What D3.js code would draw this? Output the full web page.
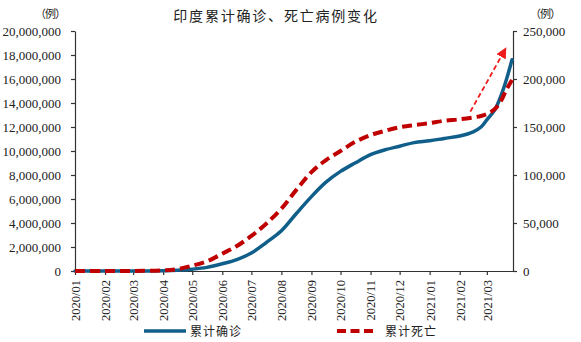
<!DOCTYPE html>
<html><head><meta charset="utf-8">
<script src="https://cdn.jsdelivr.net/npm/d3@7"></script>
<style>
body{margin:0;background:#fff;}
svg{display:block;}
</style>
</head><body>
<svg id="chart" width="581" height="342"></svg>
<script>
const title = "印度累计确诊、死亡病例变化";
const seriesNames = ["累计确诊", "累计死亡"];
const unitLabel = "（例）";
const dates = ["2020-01-01","2020-02-01","2020-03-01","2020-04-01","2020-04-16","2020-05-01","2020-05-16","2020-06-01","2020-06-16","2020-07-01","2020-07-16","2020-08-01","2020-08-16","2020-09-01","2020-09-16","2020-10-01","2020-10-16","2020-11-01","2020-11-16","2020-12-01","2020-12-16","2021-01-01","2021-01-16","2021-02-01","2021-02-15","2021-02-23","2021-03-01","2021-03-09","2021-03-16","2021-03-21","2021-03-27"];
const cases = [0,0,3000,20000,60000,150000,300000,600000,950000,1500000,2350000,3350000,4750000,6200000,7400000,8300000,9000000,9700000,10100000,10400000,10700000,10850000,11050000,11250000,11600000,12000000,12600000,13400000,14700000,15900000,17600000];
const deaths = [0,0,100,600,2000,5500,10000,18000,26000,36500,49000,65000,84000,103000,115500,125000,134500,141500,146000,149700,152000,154000,156500,158000,160000,161500,163500,168400,178000,188500,199000];
const leftTicks = [0,2000000,4000000,6000000,8000000,10000000,12000000,14000000,16000000,18000000,20000000];
const rightTicks = [0,50000,100000,150000,200000,250000];
const monthTicks = ["2020-01-01","2020-02-01","2020-03-01","2020-04-01","2020-05-01","2020-06-01","2020-07-01","2020-08-01","2020-09-01","2020-10-01","2020-11-01","2020-12-01","2021-01-01","2021-02-01","2021-03-01"];
const arrowStart = ["2021-02-12", 166000];
const arrowEnd = ["2021-03-20", 231000];

const parse = d3.utcParse("%Y-%m-%d");
const svg = d3.select("#chart");
const L = 75, R = 513, T = 31, B = 271;

const x = d3.scaleUtc().domain([parse("2020-01-01"), parse("2021-03-28")]).range([L, R]);
const yL = d3.scaleLinear().domain([0, 20000000]).range([B, T]);
const yR = d3.scaleLinear().domain([0, 250000]).range([B, T]);

const serif = "'Liberation Serif','Times New Roman',serif";
const cjk = "'Noto Sans CJK SC','Noto Sans CJK JP',sans-serif";
const fmt = d3.format(",");

// Left axis
const gL = svg.append("g").attr("transform", `translate(${L},0)`)
  .call(d3.axisLeft(yL).tickValues(leftTicks).tickFormat(fmt).tickSize(4).tickSizeOuter(0).tickPadding(10));
// Right axis
const gR = svg.append("g").attr("transform", `translate(${R},0)`)
  .call(d3.axisRight(yR).tickValues(rightTicks).tickFormat(fmt).tickSize(4).tickSizeOuter(0).tickPadding(6));
// Bottom axis
const gB = svg.append("g").attr("transform", `translate(0,${B})`)
  .call(d3.axisBottom(x).tickValues(monthTicks.map(parse)).tickFormat(d3.utcFormat("%Y/%m")).tickSize(4).tickSizeOuter(0));
gB.selectAll(".tick text")
  .attr("transform", "rotate(-90)")
  .attr("text-anchor", "end")
  .attr("x", -9).attr("y", 0).attr("dy", "0.35em");

[gL, gR, gB].forEach(g => {
  g.selectAll("text").attr("font-family", serif).attr("font-size", 13).attr("fill", "#222");
  g.selectAll("path,line").attr("stroke", "#333").attr("stroke-width", 1.2);
});
gB.selectAll("text").attr("font-size", 12.5);

// Lines
const curve = d3.curveCatmullRom.alpha(0.5);
const lineC = d3.line().x((d,i) => x(parse(dates[i]))).y(d => yL(d)).curve(curve);
const lineD = d3.line().x((d,i) => x(parse(dates[i]))).y(d => yR(d)).curve(curve);

svg.append("path").datum(cases).attr("d", lineC)
  .attr("fill", "none").attr("stroke", "#105e8a").attr("stroke-width", 3.5).attr("stroke-linecap", "round");
svg.append("path").datum(deaths).attr("d", lineD)
  .attr("fill", "none").attr("stroke", "#c00000").attr("stroke-width", 4).attr("stroke-dasharray", "10,5");

// Arrow annotation
const defs = svg.append("defs");
defs.append("marker").attr("id", "ah").attr("viewBox", "0 0 10 10").attr("refX", 8).attr("refY", 5)
  .attr("markerWidth", 6).attr("markerHeight", 6).attr("markerUnits", "strokeWidth").attr("orient", "auto")
  .append("path").attr("d", "M0,0L10,5L0,10Z").attr("fill", "#ee1c1c");
svg.append("line")
  .attr("x1", x(parse(arrowStart[0]))).attr("y1", yR(arrowStart[1]))
  .attr("x2", x(parse(arrowEnd[0]))).attr("y2", yR(arrowEnd[1]))
  .attr("stroke", "#ee1c1c").attr("stroke-width", 1.8).attr("stroke-dasharray", "5,3")
  .attr("marker-end", "url(#ah)");

// Title and unit labels
svg.append("text").attr("x", 276).attr("y", 21).attr("text-anchor", "middle")
  .attr("font-family", cjk).attr("font-size", 14).attr("letter-spacing", "1.8px").attr("fill", "#222").text(title);
svg.append("text").attr("x", 50).attr("y", 18).attr("text-anchor", "middle")
  .attr("font-family", cjk).attr("font-size", 11).attr("letter-spacing", "-1px").attr("fill", "#222").text(unitLabel);
svg.append("text").attr("x", 545).attr("y", 18).attr("text-anchor", "middle")
  .attr("font-family", cjk).attr("font-size", 11).attr("letter-spacing", "-1px").attr("fill", "#222").text(unitLabel);

// Legend
const legY = 331;
const leg = svg.append("g");
leg.append("line").attr("x1", 144).attr("x2", 186).attr("y1", legY).attr("y2", legY)
  .attr("stroke", "#105e8a").attr("stroke-width", 3.5);
leg.append("text").attr("x", 190).attr("y", legY + 4.5).attr("font-family", cjk).attr("font-size", 12)
  .attr("letter-spacing", "1px").attr("fill", "#222").text(seriesNames[0]);
leg.append("line").attr("x1", 337).attr("x2", 374).attr("y1", legY).attr("y2", legY)
  .attr("stroke", "#c00000").attr("stroke-width", 4).attr("stroke-dasharray", "9,4.5");
leg.append("text").attr("x", 385).attr("y", legY + 4.5).attr("font-family", cjk).attr("font-size", 12)
  .attr("letter-spacing", "1px").attr("fill", "#222").text(seriesNames[1]);
</script>
</body></html>
